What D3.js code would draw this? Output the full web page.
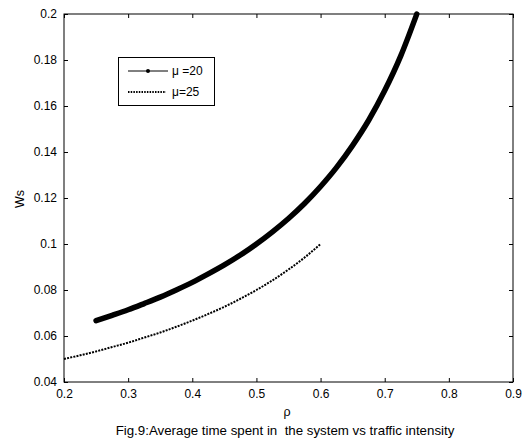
<!DOCTYPE html>
<html>
<head>
<meta charset="utf-8">
<script src="https://cdn.jsdelivr.net/npm/d3@7"></script>
<style>
  body { margin: 0; background: #fff; }
  svg { display: block; font-family: "Liberation Sans", Arial, sans-serif; }
</style>
</head>
<body>
<div id="chart"></div>
<script>
// values
const rho20 = [0.25, 0.275, 0.3, 0.325, 0.35, 0.375, 0.4, 0.425, 0.45, 0.475, 0.5, 0.525, 0.55, 0.575, 0.6, 0.625, 0.65, 0.675, 0.7, 0.725, 0.75];
const ws20 = [0.0667, 0.069, 0.0714, 0.0741, 0.0769, 0.08, 0.0833, 0.087, 0.0909, 0.0952, 0.1, 0.1053, 0.1111, 0.1176, 0.125, 0.1333, 0.1429, 0.1538, 0.1667, 0.1818, 0.2];
const rho25 = [0.2, 0.225, 0.25, 0.275, 0.3, 0.325, 0.35, 0.375, 0.4, 0.425, 0.45, 0.475, 0.5, 0.525, 0.55, 0.575, 0.6];
const ws25 = [0.05, 0.0516, 0.0533, 0.0552, 0.0571, 0.0593, 0.0615, 0.064, 0.0667, 0.0696, 0.0727, 0.0762, 0.08, 0.0842, 0.0889, 0.0941, 0.1];
const xTicks = [0.2, 0.3, 0.4, 0.5, 0.6, 0.7, 0.8, 0.9];
const yTicks = [0.04, 0.06, 0.08, 0.1, 0.12, 0.14, 0.16, 0.18, 0.2];

const width = 528, height = 444;
const plotL = 64, plotR = 513, plotT = 14, plotB = 382;

const svg = d3.select("#chart").append("svg")
  .attr("width", width).attr("height", height);

const x = d3.scaleLinear().domain([0.2, 0.9]).range([plotL, plotR]);
const y = d3.scaleLinear().domain([0.04, 0.2]).range([plotB, plotT]);

const fmt = d => String(+d.toFixed(2));

// axes (ticks inside, mirrored)
svg.append("g").attr("transform", `translate(0,${plotB})`)
  .call(d3.axisBottom(x).tickValues(xTicks).tickSizeInner(-4).tickSizeOuter(0).tickPadding(7).tickFormat(fmt))
  .call(g => g.select(".domain").remove())
  .call(g => g.selectAll("text").attr("font-size", 12).attr("fill", "#000").attr("font-family", "Liberation Sans, Arial, sans-serif"));
svg.append("g").attr("transform", `translate(${plotL},0)`)
  .call(d3.axisLeft(y).tickValues(yTicks).tickSizeInner(-4).tickSizeOuter(0).tickPadding(7).tickFormat(fmt))
  .call(g => g.select(".domain").remove())
  .call(g => g.selectAll("text").attr("font-size", 12).attr("fill", "#000").attr("font-family", "Liberation Sans, Arial, sans-serif"));
svg.append("g").attr("transform", `translate(0,${plotT})`)
  .call(d3.axisTop(x).tickValues(xTicks).tickSizeInner(-4).tickSizeOuter(0).tickFormat(""))
  .call(g => g.select(".domain").remove());
svg.append("g").attr("transform", `translate(${plotR},0)`)
  .call(d3.axisRight(y).tickValues(yTicks).tickSizeInner(-4).tickSizeOuter(0).tickFormat(""))
  .call(g => g.select(".domain").remove());

svg.append("rect")
  .attr("x", plotL).attr("y", plotT)
  .attr("width", plotR - plotL).attr("height", plotB - plotT)
  .attr("fill", "none").attr("stroke", "#000").attr("stroke-width", 1);

const line = d3.line().curve(d3.curveMonotoneX).x(d => x(d[0])).y(d => y(d[1]));

// mu = 20 : dense markers, appears as thick line
svg.append("path")
  .datum(rho20.map((r, i) => [r, ws20[i]]))
  .attr("d", line)
  .attr("fill", "none").attr("stroke", "#000")
  .attr("stroke-width", 5.5).attr("stroke-linecap", "round");

// mu = 25 : dotted
svg.append("path")
  .datum(rho25.map((r, i) => [r, ws25[i]]))
  .attr("d", line)
  .attr("fill", "none").attr("stroke", "#000")
  .attr("stroke-width", 2).attr("stroke-dasharray", "2,1.2");

// legend
const lg = svg.append("g");
lg.append("rect").attr("x", 118.5).attr("y", 57.5).attr("width", 96).attr("height", 48)
  .attr("fill", "#fff").attr("stroke", "#000").attr("stroke-width", 1);
lg.append("line").attr("x1", 128).attr("x2", 168).attr("y1", 71).attr("y2", 71)
  .attr("stroke", "#000").attr("stroke-width", 1);
lg.append("circle").attr("cx", 148).attr("cy", 71).attr("r", 2).attr("fill", "#000");
lg.append("line").attr("x1", 128).attr("x2", 166).attr("y1", 92).attr("y2", 92)
  .attr("stroke", "#000").attr("stroke-width", 2).attr("stroke-dasharray", "1.5,1.2");
lg.append("text").attr("x", 172).attr("y", 75).attr("font-size", 12).text("\u03bc =20");
lg.append("text").attr("x", 172).attr("y", 96).attr("font-size", 12).text("\u03bc=25");

// labels
svg.append("text")
  .attr("transform", "translate(24,199) rotate(-90)")
  .attr("text-anchor", "middle").attr("font-size", 12.5).text("Ws");
svg.append("text")
  .attr("x", 287).attr("y", 416)
  .attr("text-anchor", "middle").attr("font-size", 12.5).text("\u03c1");
svg.append("text")
  .attr("x", 285).attr("y", 435)
  .attr("text-anchor", "middle").attr("font-size", 13.3)
  .style("white-space", "pre")
  .text("Fig.9:Average time spent in  the system vs traffic intensity");
</script>
</body>
</html>
